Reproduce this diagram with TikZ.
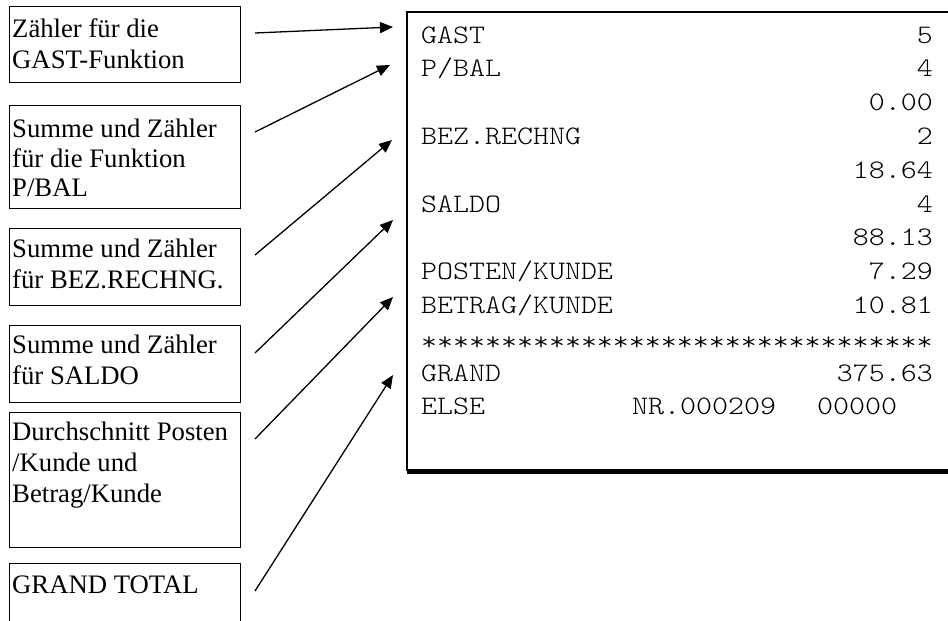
\documentclass[tikz,border=0pt]{standalone}
\usepackage{fontspec}
\setmainfont{Liberation Serif}
\newfontfamily\receiptfont[FakeStretch=1.14]{Latin Modern Mono Light}
\usetikzlibrary{arrows.meta}
\begin{document}
\begin{tikzpicture}[x=1pt,y=-1pt,
  box/.style={draw, line width=1.3pt, anchor=north west, inner sep=0pt, minimum width=231pt},
  lbl/.style={anchor=base west, inner sep=0pt, font=\fontsize{26.7}{31}\selectfont},
  rl/.style={anchor=base west, inner sep=0pt, font=\receiptfont\fontsize{26.7}{31}\selectfont},
  rr/.style={anchor=base east, inner sep=0pt, font=\receiptfont\fontsize{26.7}{31}\selectfont},
  arr/.style={line width=1.3pt, -{Triangle[length=13pt,width=11pt]}}
]
\useasboundingbox (0,0) rectangle (948,621);
\clip (0,0) rectangle (948,621);
\fill[white] (0,0) rectangle (948,621);

% left boxes
\node[box, minimum height=76pt]  (b1) at (9,6) {};
\node[box, minimum height=103pt] (b2) at (9,105) {};
\node[box, minimum height=77pt]  (b3) at (9,228) {};
\node[box, minimum height=77pt]  (b4) at (9,325) {};
\node[box, minimum height=135pt] (b5) at (9,412) {};
\node[box, minimum height=90pt]  (b6) at (9,563) {};

% box texts
\node[lbl] (t1a) at (12,37)  {Zähler für die};
\node[lbl] (t1b) at (12,68)  {GAST-Funktion};
\node[lbl] (t2a) at (12,137) {Summe und Zähler};
\node[lbl] (t2b) at (12,167) {für die Funktion};
\node[lbl] (t2c) at (12,196) {P/BAL};
\node[lbl] (t3a) at (12,257) {Summe und Zähler};
\node[lbl] (t3b) at (12,288) {für BEZ.RECHNG.};
\node[lbl] (t4a) at (12,353) {Summe und Zähler};
\node[lbl] (t4b) at (12,384) {für SALDO};
\node[lbl] (t5a) at (12,440) {Durchschnitt Posten};
\node[lbl] (t5b) at (12,471) {/Kunde und};
\node[lbl] (t5c) at (12,502) {Betrag/Kunde};
\node[lbl] (t6a) at (12,593) {GRAND TOTAL};

% receipt
\node[draw, line width=2pt, anchor=north west, inner sep=0pt,
      minimum width=580pt, minimum height=458pt] (rc) at (406,11) {};
\draw[line width=4.5pt] ([xshift=1pt,yshift=-1pt]rc.south west) -- ([xshift=10pt,yshift=-1pt]rc.south east);

\node[rl] (r1)  at (421,43)    {GAST};
\node[rr] (v1)  at (933,43)    {5};
\node[rl] (r2)  at (421,76.8)  {P/BAL};
\node[rr] (v2)  at (933,76.8)  {4};
\node[rr] (v3)  at (933,110.6) {0.00};
\node[rl] (r4)  at (421,144.4) {BEZ.RECHNG};
\node[rr] (v4)  at (933,144.4) {2};
\node[rr] (v5)  at (933,178.2) {18.64};
\node[rl] (r6)  at (421,212)   {SALDO};
\node[rr] (v6)  at (933,212)   {4};
\node[rr] (v7)  at (933,245.8) {88.13};
\node[rl] (r8)  at (421,279.6) {POSTEN/KUNDE};
\node[rr] (v8)  at (933,279.6) {7.29};
\node[rl] (r9)  at (421,313.4) {BETRAG/KUNDE};
\node[rr] (v9)  at (933,313.4) {10.81};
\node[rl] (r10) at (421,350)   {********************************};
\node[rl] (r11) at (421,381)   {GRAND};
\node[rr] (v11) at (933,381)   {375.63};
\node[rl] (r12) at (421,414.8) {ELSE};
\node[rl] (n12) at (632,414.8) {NR.000209};
\node[rl] (z12) at (817,414.8) {00000};

% arrow coordinates
\coordinate (s1) at (255,33);  \coordinate (e1) at (393,27);
\coordinate (s2) at (255,132); \coordinate (e2) at (390,65);
\coordinate (s3) at (255,255); \coordinate (e3) at (392,140);
\coordinate (s4) at (255,353); \coordinate (e4) at (393,220);
\coordinate (s5) at (255,439); \coordinate (e5) at (393,297);
\coordinate (s6) at (255,591); \coordinate (e6) at (393,375);

\draw[arr] (s1) -- (e1);
\draw[arr] (s2) -- (e2);
\draw[arr] (s3) -- (e3);
\draw[arr] (s4) -- (e4);
\draw[arr] (s5) -- (e5);
\draw[arr] (s6) -- (e6);
\end{tikzpicture}
\end{document}
